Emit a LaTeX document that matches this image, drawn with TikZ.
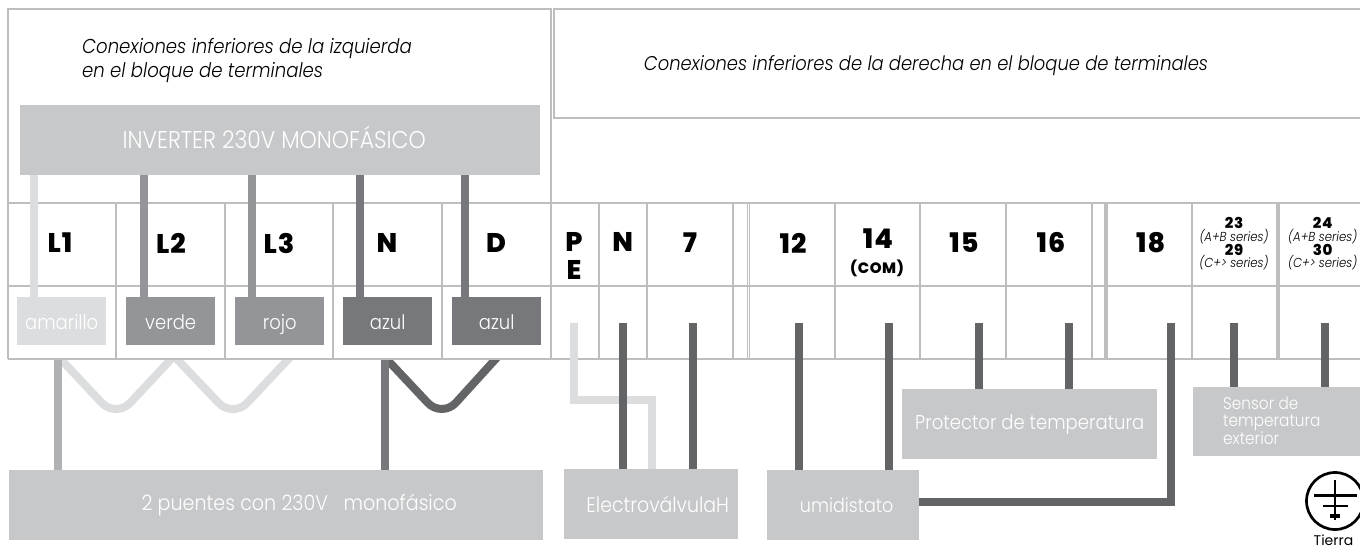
\documentclass[tikz,border=0pt]{standalone}
\usepackage{fontspec}
\setmainfont{Poppins}
\newfontfamily\lightf[ItalicFont={Poppins Light Italic},FakeStretch=0.9]{Poppins Light}
\newfontfamily\boldf[LetterSpace=4]{Poppins ExtraBold}
\newcommand{\fsz}[1]{\fontsize{#1}{#1}\selectfont}
\definecolor{gridc}{HTML}{BCBEC0}
\definecolor{boxc}{HTML}{C7C8CA}
\definecolor{lightc}{HTML}{DCDDDE}
\definecolor{midc}{HTML}{939598}
\definecolor{darkc}{HTML}{77787B}
\definecolor{wirec}{HTML}{636466}
\definecolor{palec}{HTML}{B0B1B4}
\tikzset{
  gridline/.style={draw=gridc,line width=1.2pt},
  graybox/.style={fill=boxc,inner sep=0pt,anchor=north west,text=white,align=center},
  colorbox/.style={inner sep=0pt,anchor=north west,text=white,minimum width=89pt,minimum height=48pt,text height=17pt,text depth=0pt,font=\lightf\fsz{20}},
  wire/.style={line width=8pt,draw=#1},
  term/.style={inner sep=0pt,font=\boldf\fsz{27}},
  tinynum/.style={inner sep=0pt,font=\boldf\fsz{15}},
  small/.style={inner sep=0pt,align=center,font=\lightf\itshape\fsz{13}},
}
\begin{document}
\begin{tikzpicture}[x=1pt,y=-1pt]
\useasboundingbox (0,0) rectangle (1360,549);
% frames
\draw[gridline] (8,9) rectangle (551,203);
\draw[gridline] (1361,9) -- (554,9) -- (554,118) -- (1361,118);
\draw[gridline] (8,203) -- (1361,203);
\draw[gridline] (8,286) -- (1361,286);
\draw[gridline] (8,359) -- (1361,359);
\foreach \gx in {8,116,225,333,442,551,599,647,733,747.5,749.5,835,920,1006,1092,1105,1107,1192,1277,1279}
  \draw[gridline] (\gx,203) -- (\gx,359);
% horizontal positions of wires
\foreach \nm/\wx in {a/33.5,b/143.5,c/252,d/360,e/465.4,pe/574,n/623,s/693,tw/799,fo/888.7,fi/979,si/1068.7,ei/1170.5,th/1234,tf/1325,low/58,lowb/384.7}
  \coordinate (x\nm) at (\wx,0);
\coordinate (rowa) at (0,323);
\coordinate (rowb) at (0,360);
% boxes
\node[graybox,minimum width=520pt,minimum height=70pt] (inv) at (20,105) {\raisebox{5pt}{\lightf\fsz{24.3}INVERTER 230V MONOFÁSICO}\hspace*{12pt}};
\node[colorbox,fill=lightc] (ca) at (17,297) {amarillo};
\node[colorbox,fill=midc] (cb) at (126,297) {verde};
\node[colorbox,fill=midc] (cc) at (235,297) {rojo};
\node[colorbox,fill=darkc] (cd) at (343,297) {azul};
\node[colorbox,fill=darkc] (ce) at (452,297) {azul};
\node[graybox,minimum width=534pt,minimum height=70pt] (bridge) at (9,470) {\hspace*{46pt}\raisebox{-8pt}{\lightf\fsz{21.2}2 puentes con 230V\ \ \ monofásico}};
\node[graybox,minimum width=174pt,minimum height=70pt] (valve) at (564,469) {\hspace*{13pt}\lightf\fsz{21}ElectroválvulaH};
\node[graybox,minimum width=152pt,minimum height=70pt] (hum) at (767,470) {\hspace*{7pt}\lightf\fsz{19.5}umidistato};
\node[graybox,minimum width=255pt,minimum height=70pt] (prot) at (902,389) {\raisebox{-6pt}{\lightf\fsz{20}Protector de temperatura}};
\node[graybox,minimum width=167pt,minimum height=69pt] (sens) at (1193,387) {};
\node[inner sep=0pt,anchor=north west,text=white,align=left,font=\lightf\fontsize{17}{16.3}\selectfont] (senst) at (1223,397) {Sensor de\\temperatura\\exterior};
% upper wires
\draw[wire=lightc] (xa |- inv.south) -- (xa |- ca.north);
\draw[wire=midc] (xb |- inv.south) -- (xb |- cb.north);
\draw[wire=midc] (xc |- inv.south) -- (xc |- cc.north);
\draw[wire=darkc] (xd |- inv.south) -- (xd |- cd.north);
\draw[wire=darkc] (xe |- inv.south) -- (xe |- ce.north);
% jumpers
\begin{scope}
\clip (0,360) rectangle (1360,549);
\coordinate (j0) at (54,352); \coordinate (j1) at (116,418); \coordinate (j2) at (174,356);
\coordinate (j3) at (233,418); \coordinate (j4) at (295,352);
\coordinate (k0) at (380,352); \coordinate (k1) at (442,418); \coordinate (k2) at (502,352);
\draw[wire=lightc,rounded corners=21pt] (j0) -- (j1) -- (j2);
\draw[wire=lightc,rounded corners=21pt] (j2) -- (j3) -- (j4);
\draw[wire=wirec,rounded corners=21pt] (k0) -- (k1) -- (k2);
\end{scope}
\draw[wire=palec] (xlow |- rowb) -- (xlow |- bridge.north);
\draw[wire=darkc] (xlowb |- rowb) -- (xlowb |- bridge.north);
% lower wires
\coordinate (bend) at (0,400);
\coordinate (xv) at (652,0);
\draw[wire=lightc,line join=miter] (xpe |- rowa) -- (xpe |- bend) -- (xv |- bend) -- (xv |- valve.north);
\draw[wire=wirec] (xn |- rowa) -- (xn |- valve.north);
\draw[wire=wirec] (xs |- rowa) -- (xs |- valve.north);
\draw[wire=wirec] (xtw |- rowa) -- (xtw |- hum.north);
\draw[wire=wirec] (xfo |- rowa) -- (xfo |- hum.north);
\draw[wire=wirec] (xfi |- rowa) -- (xfi |- prot.north);
\draw[wire=wirec] (xsi |- rowa) -- (xsi |- prot.north);
\coordinate (hy) at (0,501.5);
\draw[wire=wirec,line join=miter] (xei |- rowa) -- (xei |- hy) -- (hum.east |- hy);
\draw[wire=wirec] (xth |- rowa) -- (xth |- sens.north);
\draw[wire=wirec] (xtf |- rowa) -- (xtf |- sens.north);
% headings
\node[inner sep=0pt,anchor=west,align=left,font=\lightf\itshape\fontsize{20.1}{24}\selectfont] (hl) at (82,60.5) {Conexiones inferiores de la izquierda\\en el bloque de terminales};
\node[inner sep=0pt,font=\lightf\itshape\fsz{19.9}] (hr) at (926,66) {Conexiones inferiores de la derecha en el bloque de terminales};
% terminals
\node[term] (tL1) at (60,243) {L1};
\node[term] (tL2) at (171,243) {L2};
\node[term] (tL3) at (279,243) {L3};
\node[term] (tN) at (387,243) {N};
\node[term] (tD) at (496,243) {D};
\node[term] (tP) at (574,242) {P};
\node[term] (tE) at (574,270) {E};
\node[term] (tNb) at (622.7,242) {N};
\node[term] (t7) at (690,243) {7};
\node[term] (t12) at (793,243) {12};
\node[term] (t14) at (878,239) {14};
\node[inner sep=0pt,font=\boldf\fsz{15}] (tcom) at (877,268) {(COM)};
\node[term] (t15) at (964,243) {15};
\node[term] (t16) at (1051,243) {16};
\node[term] (t18) at (1150.7,243) {18};
\node[tinynum] (t23) at (1234,223) {23};
\node[small] (s23a) at (1234,236.7) {(A+B series)};
\node[tinynum] (t29) at (1234,249.5) {29};
\node[small] (s23b) at (1234,263) {(C+> series)};
\node[tinynum] (t24) at (1322.7,223) {24};
\node[small] (s24a) at (1322.7,236.7) {(A+B series)};
\node[tinynum] (t30) at (1322.7,249.5) {30};
\node[small] (s24b) at (1322.7,263) {(C+> series)};
% earth symbol
\draw[line width=2.7pt,black] (1335,501) circle (28.5);
\draw[line width=2.7pt,black] (1335,480) -- (1335,520);
\draw[line width=2.7pt,black] (1314,495.3) -- (1356.5,495.3);
\draw[line width=2.7pt,black] (1323,506) -- (1348,506);
\draw[line width=4pt,black] (1330,516) -- (1340,516);
\node[inner sep=0pt,anchor=base,font=\fsz{14}] (tierra) at (1333.5,545.5) {Tierra};
\end{tikzpicture}
\end{document}
